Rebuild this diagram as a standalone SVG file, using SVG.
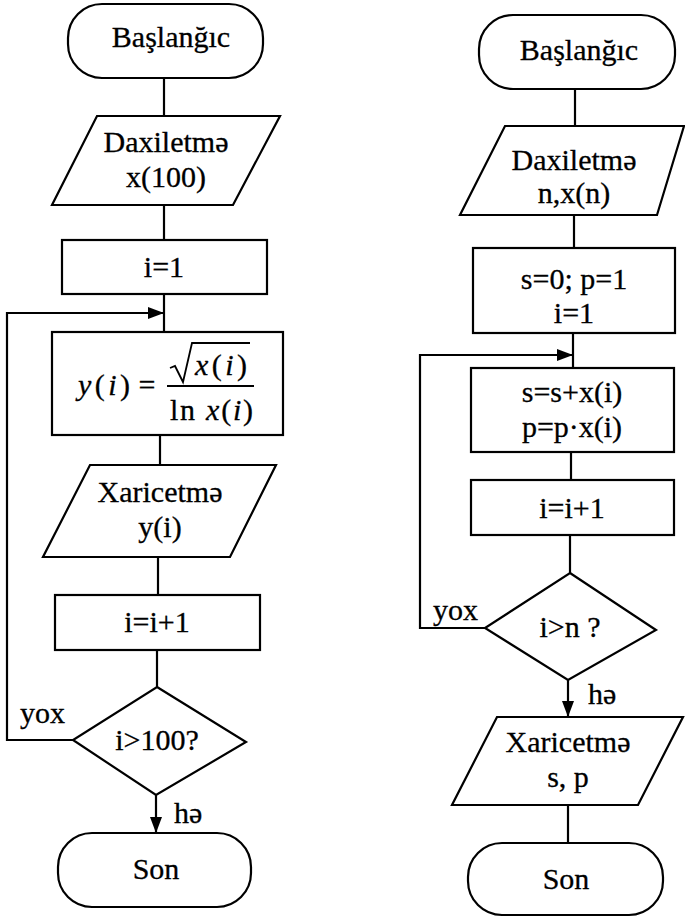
<svg xmlns="http://www.w3.org/2000/svg" width="685" height="919" viewBox="0 0 685 919">
<defs>
<style>
.s{fill:#fff;stroke:#000;stroke-width:2.2}
.c{fill:none;stroke:#000;stroke-width:2.2}
text{font-family:"Liberation Serif","Times New Roman",serif;font-size:30px;fill:#000;stroke:#000;stroke-width:0.3;text-anchor:middle}
.lbl{text-anchor:start}
.it{font-style:italic}
.m{fill:none;stroke:#000;stroke-width:1.8}
</style>
<marker id="ah" viewBox="0 0 16 12" refX="16" refY="6" markerWidth="16" markerHeight="12" markerUnits="userSpaceOnUse" orient="auto">
<path d="M0,0 L16,6 L0,12 Z" fill="#000"/>
</marker>
</defs>
<rect width="685" height="919" fill="#fff"/>
<g id="connectors">
<line class="c" x1="164" y1="78" x2="164" y2="116"/>
<line class="c" x1="164" y1="205" x2="164" y2="240"/>
<line class="c" x1="164" y1="294" x2="164" y2="332"/>
<line class="c" x1="160" y1="435" x2="160" y2="465"/>
<line class="c" x1="158" y1="557" x2="158" y2="595"/>
<line class="c" x1="157" y1="650" x2="157" y2="687"/>
<polyline class="c" points="73,740 7,740 7,313 164,313" marker-end="url(#ah)"/>
<line class="c" x1="156" y1="795" x2="156" y2="833" marker-end="url(#ah)"/>
<line class="c" x1="575" y1="89" x2="575" y2="126"/>
<line class="c" x1="574" y1="215" x2="574" y2="248"/>
<line class="c" x1="573" y1="333" x2="573" y2="368"/>
<line class="c" x1="571" y1="452" x2="571" y2="480"/>
<line class="c" x1="570" y1="535" x2="570" y2="573"/>
<polyline class="c" points="485,628 420,628 420,355 573,355" marker-end="url(#ah)"/>
<line class="c" x1="568" y1="680" x2="568" y2="717" marker-end="url(#ah)"/>
<line class="c" x1="568" y1="805" x2="568" y2="843"/>
<text class="lbl" x="20" y="723">yox</text>
<text class="lbl" x="174" y="823">hə</text>
<text class="lbl" x="433" y="620">yox</text>
<text class="lbl" x="588" y="704">hə</text>
</g>
<g id="start1">
<rect class="s" x="68" y="4" width="195" height="74" rx="34"/>
<text x="171" y="47">Başlanğıc</text>
</g>
<g id="input1">
<polygon class="s" points="97,116 280,116 233,205 52,205"/>
<text x="166" y="152">Daxiletmə</text>
<text x="166" y="187">x(100)</text>
</g>
<g id="init1">
<rect class="s" x="62" y="240" width="205" height="54"/>
<text x="164" y="277">i=1</text>
</g>
<g id="calc1">
<rect class="s" x="52" y="332" width="231" height="103"/>
<text x="78" y="395" class="lbl" textLength="52" lengthAdjust="spacing"><tspan class="it">y</tspan>(<tspan class="it">i</tspan>)</text>
<text x="147" y="395">=</text>
<polyline class="m" points="170,368 175,366 183,382 192,343 250,343"/>
<text x="195" y="375" class="lbl" textLength="52" lengthAdjust="spacing"><tspan class="it">x</tspan>(<tspan class="it">i</tspan>)</text>
<line class="m" x1="167" y1="386" x2="254" y2="386"/>
<text x="170" y="420" class="lbl" textLength="83" lengthAdjust="spacing">ln <tspan class="it">x</tspan>(<tspan class="it">i</tspan>)</text>
</g>
<g id="output1">
<polygon class="s" points="90,465 276,465 230,557 43,557"/>
<text x="160" y="502">Xaricetmə</text>
<text x="160" y="537">y(i)</text>
</g>
<g id="inc1">
<rect class="s" x="55" y="595" width="205" height="55"/>
<text x="157" y="632">i=i+1</text>
</g>
<g id="dec1">
<polygon class="s" points="157,687 246,742 156,795 73,740"/>
<text x="157" y="750">i&gt;100?</text>
</g>
<g id="end1">
<rect class="s" x="58" y="833" width="193" height="74" rx="34"/>
<text x="156" y="879">Son</text>
</g>
<g id="start2">
<rect class="s" x="479" y="15" width="196" height="74" rx="34"/>
<text x="579" y="60">Başlanğıc</text>
</g>
<g id="input2">
<polygon class="s" points="505,126 684,126 657,215 460,215"/>
<text x="574" y="170">Daxiletmə</text>
<text x="574" y="203">n,x(n)</text>
</g>
<g id="init2">
<rect class="s" x="473" y="248" width="202" height="85"/>
<text x="574" y="289">s=0; p=1</text>
<text x="574" y="323">i=1</text>
</g>
<g id="calc2">
<rect class="s" x="471" y="368" width="203" height="84"/>
<text x="572" y="402">s=s+x(i)</text>
<text x="572" y="437">p=p·x(i)</text>
</g>
<g id="inc2">
<rect class="s" x="471" y="480" width="203" height="55"/>
<text x="572" y="518">i=i+1</text>
</g>
<g id="dec2">
<polygon class="s" points="570,573 656,630 568,680 485,628"/>
<text x="570" y="637">i&gt;n ?</text>
</g>
<g id="output2">
<polygon class="s" points="497,717 683,717 638,805 452,805"/>
<text x="568" y="752">Xaricetmə</text>
<text x="568" y="787">s, p</text>
</g>
<g id="end2">
<rect class="s" x="468" y="843" width="195" height="72" rx="34"/>
<text x="566" y="889">Son</text>
</g>
</svg>
